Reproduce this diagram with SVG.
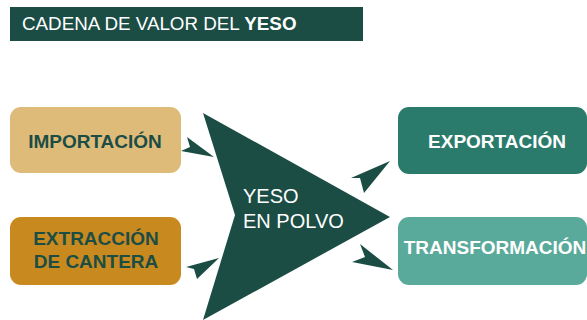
<svg xmlns="http://www.w3.org/2000/svg" width="587" height="320" viewBox="0 0 587 320">
<style>
.t{font-family:"Liberation Sans",Arial,sans-serif;}
.b{font-weight:bold;font-size:19px;text-anchor:middle;}
.dk{fill:#1b4d45;}
.wt{fill:#ffffff;}
.ah{fill:#1b4d45;}
</style>
<rect width="587" height="320" fill="#ffffff"/>
<g id="title">
<rect x="10" y="7" width="353" height="34" fill="#1b4d45"/>
<text class="t wt" x="22" y="30" font-size="18.8">CADENA DE VALOR DEL <tspan font-weight="bold">YESO</tspan></text>
</g>
<g id="importacion">
<rect x="10" y="107" width="171" height="66" rx="11" fill="#dfbb7a"/>
<text class="t b dk" x="95" y="148">IMPORTACIÓN</text>
</g>
<g id="extraccion">
<rect x="10" y="217" width="171" height="68" rx="11" fill="#c8891f"/>
<text class="t b dk" x="96" y="245">EXTRACCIÓN</text>
<text class="t b dk" x="96" y="268">DE CANTERA</text>
</g>
<g id="yeso">
<polygon points="203,113 390,217 203,320 235,215" fill="#1b4d45"/>
<text class="t wt" x="243" y="203" font-size="20">YESO</text>
<text class="t wt" x="243" y="228" font-size="20">EN POLVO</text>
</g>
<g id="exportacion">
<rect x="398" y="107" width="189" height="67" rx="11" fill="#2b7b6c"/>
<text class="t b wt" x="497" y="148">EXPORTACIÓN</text>
</g>
<g id="transformacion">
<rect x="398" y="217" width="189" height="68" rx="11" fill="#5aaa9b"/>
<text class="t b wt" x="495" y="254">TRANSFORMACIÓN</text>
</g>
<g id="connectors">
<polygon class="ah" points="187,137 214,157 181,151 190,147"/>
<polygon class="ah" points="219,258 186,267 194,269 197,279"/>
<polygon class="ah" points="390,161 351,178 360,178 364,193"/>
<polygon class="ah" points="393,270 360,244 365,257 352,262"/>
</g>
</svg>
